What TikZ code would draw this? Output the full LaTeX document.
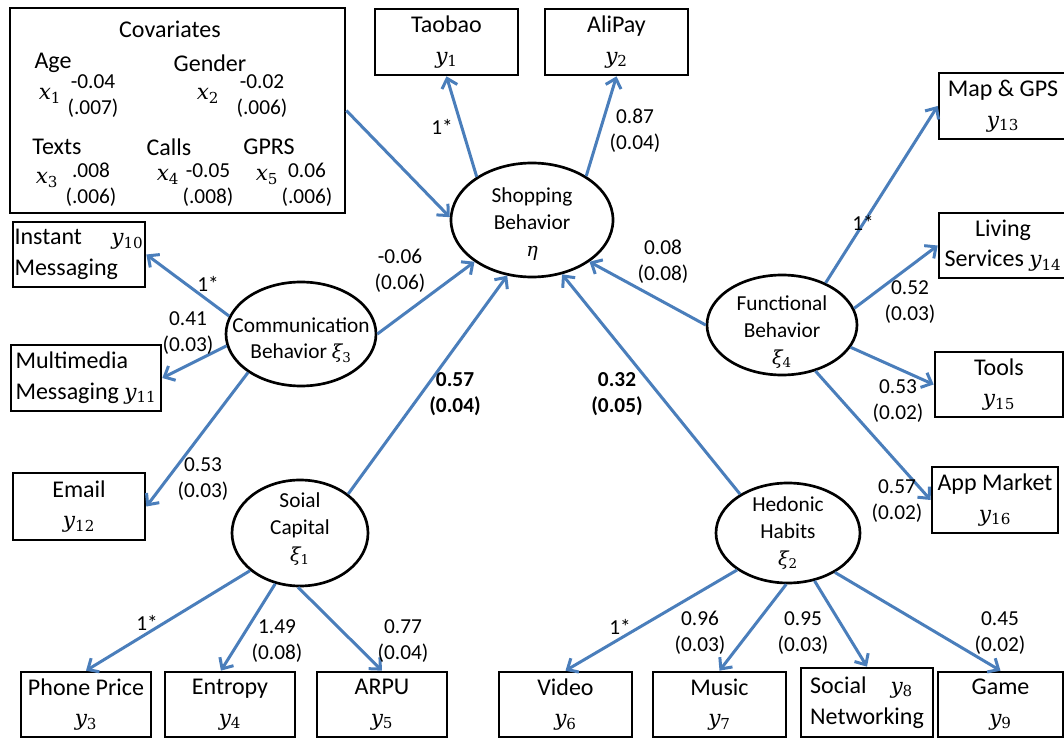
\documentclass[tikz,border=0pt]{standalone}
\usepackage{fontspec}
\setmainfont{Carlito}
\newfontfamily\varfont{DejaVu Serif}[Scale=0.9]
\newcommand\mvar[2]{{\varfont\itshape #1}\textsubscript{\varfont #2}}
\usetikzlibrary{shapes.geometric,arrows.meta}

\definecolor{pathblue}{RGB}{74,126,187}
\tikzset{every picture/.style={line width=0.75pt}}
\tikzset{
  obsbox/.style={draw=black,line width=2pt,rectangle,inner sep=0pt,align=center,font=\fontsize{18}{23}\selectfont},
  latent/.style={draw=black,line width=2pt,ellipse,inner sep=0pt},
  latenttxt/.style={align=center,inner sep=0pt,font=\fontsize{16}{20}\selectfont},
  covtxt/.style={inner sep=0pt,font=\fontsize{18}{22}\selectfont},
  coef/.style={align=center,inner sep=0pt,font=\fontsize{16}{19.5}\selectfont},
  patharrow/.style={draw=pathblue,line width=2.25pt,-{Straight Barb[length=6.5pt,width=12pt]}},
}

\begin{document}
\begin{tikzpicture}[x=0.75pt,y=0.75pt,yscale=-1,xscale=1]
	\useasboundingbox (0,0) rectangle (1064,738);
	\clip (0,0) rectangle (1064,738);

	%Shape: Rectangle [covariates]
	\draw (177.5,110.5) node[obsbox,minimum width=251.25pt,minimum height=153.75pt] (cov) {};
	% Text Node
	\draw (170,29) node[covtxt] (covtitle) {Covariates};
	\draw (53,63) node[covtxt] (agetxt) {Age};
	\draw (50,96) node[covtxt] (xone) {\mvar{x}{1}};
	\draw (93,96) node[coef] (agecoef) {-0.04\\(.007)};
	\draw (210,63) node[covtxt] (gendertxt) {Gender};
	\draw (208,96) node[covtxt] (xtwo) {\mvar{x}{2}};
	\draw (262,96) node[coef] (gendercoef) {-0.02\\(.006)};
	\draw (57,147) node[covtxt] (textstxt) {Texts};
	\draw (47,180) node[covtxt] (xthree) {\mvar{x}{3}};
	\draw (91,185) node[coef] (textscoef) {.008\\(.006)};
	\draw (169,147) node[covtxt] (callstxt) {Calls};
	\draw (168,177) node[covtxt] (xfour) {\mvar{x}{4}};
	\draw (208,185) node[coef] (callscoef) {-0.05\\(.008)};
	\draw (269,147) node[covtxt] (gprstxt) {GPRS};
	\draw (267,177) node[covtxt] (xfive) {\mvar{x}{5}};
	\draw (307,185) node[coef] (gprscoef) {0.06\\(.006)};

	%Shape: Rectangle [indicators]
	\draw (446.5,42) node[obsbox,minimum width=107.25pt,minimum height=49.5pt] (taobao) {Taobao\\\mvar{y}{1}};
	\draw (616.5,42) node[obsbox,minimum width=107.25pt,minimum height=49.5pt] (alipay) {AliPay\\\mvar{y}{2}};
	\draw (1003,106) node[obsbox,minimum width=96pt,minimum height=49.5pt] (map) {Map \& GPS\\\mvar{y}{13}};
	\draw (1003,245.5) node[obsbox,minimum width=96pt,minimum height=48.75pt] (living) {Living\\Services \mvar{y}{14}};
	\draw (999,384.5) node[obsbox,minimum width=96pt,minimum height=48.75pt] (tools) {Tools\\\mvar{y}{15}};
	\draw (995,500) node[obsbox,minimum width=94.5pt,minimum height=49.5pt] (app) {App Market\\\mvar{y}{16}};
	\draw (79,254.5) node[obsbox,align=left,minimum width=99pt,minimum height=48.75pt] (instant) {Instant \quad\mvar{y}{10}\\Messaging};
	\draw (86,378) node[obsbox,align=left,minimum width=112.5pt,minimum height=49.5pt] (multi) {Multimedia\\Messaging \mvar{y}{11}};
	\draw (79,506.5) node[obsbox,minimum width=99pt,minimum height=50.25pt] (email) {Email\\\mvar{y}{12}};
	\draw (86,704.5) node[obsbox,minimum width=97.5pt,minimum height=48.75pt] (phone) {Phone Price\\\mvar{y}{3}};
	\draw (230,704.5) node[obsbox,minimum width=97.5pt,minimum height=48.75pt] (entropy) {Entropy\\\mvar{y}{4}};
	\draw (382,704.5) node[obsbox,minimum width=97.5pt,minimum height=48.75pt] (arpu) {ARPU\\\mvar{y}{5}};
	\draw (565.5,704.5) node[obsbox,minimum width=99.75pt,minimum height=48.75pt] (video) {Video\\\mvar{y}{6}};
	\draw (719.5,704.5) node[obsbox,minimum width=99.75pt,minimum height=48.75pt] (music) {Music\\\mvar{y}{7}};
	\draw (867,702.5) node[obsbox,align=left,minimum width=99pt,minimum height=51.75pt] (social) {Social\quad\mvar{y}{8}\\Networking};
	\draw (1000.5,704.5) node[obsbox,minimum width=93.75pt,minimum height=48.75pt] (game) {Game\\\mvar{y}{9}};

	%Shape: Ellipse [latent variables]
	\draw (532,220) node[latent,minimum width=121.5pt,minimum height=85.5pt] (shop) {};
	\draw (532,224) node[latenttxt] (shoptxt) {Shopping\\Behavior\\{\varfont\itshape η}};
	\draw (301,334) node[latent,minimum width=112.5pt,minimum height=78pt] (comm) {};
	\draw (301,340) node[latenttxt] (commtxt) {Communication\\Behavior \mvar{ξ}{3}};
	\draw (782,325) node[latent,minimum width=112.5pt,minimum height=75pt] (func) {};
	\draw (782,332) node[latenttxt] (functxt) {Functional\\Behavior\\\mvar{ξ}{4}};
	\draw (300,533) node[latent,minimum width=102pt,minimum height=79.5pt] (soc) {};
	\draw (300,529) node[latenttxt] (soctxt) {Soial\\Capital\\\mvar{ξ}{1}};
	\draw (788,533) node[latent,minimum width=108pt,minimum height=75pt] (hed) {};
	\draw (788,533) node[latenttxt] (hedtxt) {Hedonic\\Habits\\\mvar{ξ}{2}};

	%Straight Lines [paths]
	\draw [patharrow] (cov.east) -- (shop.178);
	\draw [patharrow] (shop.142) -- (taobao.south);
	\draw [patharrow] (shop.39) -- (alipay.south);
	\draw [patharrow] (comm.east) -- (shop.216);
	\draw [patharrow] (soc.39) -- (shop.246);
	\draw [patharrow] (hed.141) -- (shop.299);
	\draw [patharrow] (func.west) -- (shop.324);
	\draw [patharrow] (comm.166) -- (instant.east);
	\draw [patharrow] (comm.189) -- (multi.east);
	\draw [patharrow] (comm.216) -- (email.east);
	\draw [patharrow] (func.44) -- (map.west);
	\draw [patharrow] (func.13) -- (living.west);
	\draw [patharrow] (func.342) -- (tools.west);
	\draw [patharrow] (func.306) -- (app.west);
	\draw [patharrow] (soc.217) -- (phone.north);
	\draw [patharrow] (soc.244) -- (entropy.105);
	\draw [patharrow] (soc.268) -- (arpu.north);
	\draw [patharrow] (hed.216) -- (video.north);
	\draw [patharrow] (hed.268) -- (music.north);
	\draw [patharrow] (hed.299) -- (social.north);
	\draw [patharrow] (hed.320) -- (game.north);

	% Text Node
	\draw (442,127) node[coef] (ltaobao) {1*};
	\draw (635,131) node[coef] (lalipay) {0.87\\(0.04)};
	\draw (400,271) node[coef] (lcomm) {-0.06\\(0.06)};
	\draw (455,394) node[coef] (lsoc) {\textbf{0.57}\\\textbf{(0.04)}};
	\draw (617,394) node[coef] (lhed) {\textbf{0.32}\\\textbf{(0.05)}};
	\draw (663,262) node[coef] (lfunc) {0.08\\(0.08)};
	\draw (863,223) node[coef] (lmap) {1*};
	\draw (910,302) node[coef] (lliving) {0.52\\(0.03)};
	\draw (898,401) node[coef] (ltools) {0.53\\(0.02)};
	\draw (897,501) node[coef] (lapp) {0.57\\(0.02)};
	\draw (208,284) node[coef] (linstant) {1*};
	\draw (188,333) node[coef] (lmulti) {0.41\\(0.03)};
	\draw (203,479) node[coef] (lemail) {0.53\\(0.03)};
	\draw (147,623) node[coef] (lphone) {1*};
	\draw (277,641) node[coef] (lentropy) {1.49\\(0.08)};
	\draw (403,641) node[coef] (larpu) {0.77\\(0.04)};
	\draw (620,627) node[coef] (lvideo) {1*};
	\draw (700,633) node[coef] (lmusic) {0.96\\(0.03)};
	\draw (803,633) node[coef] (lsocial) {0.95\\(0.03)};
	\draw (1000,633) node[coef] (lgame) {0.45\\(0.02)};

\end{tikzpicture}
\end{document}
